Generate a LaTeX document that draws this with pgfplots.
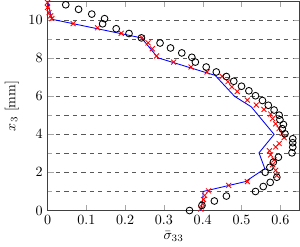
\documentclass[border=0pt]{standalone}
\usepackage{pgfplots}
\pgfplotsset{compat=1.18}
\begin{document}
\begin{tikzpicture}
\begin{axis}[
  scale only axis,
  width=179pt, height=148.6pt,
  xmin=0, xmax=0.65, ymin=0, ymax=11,
  xtick={0,0.1,0.2,0.3,0.4,0.5,0.6},
  ytick={0,2,4,6,8,10},
  minor ytick={1,3,5,7,9},
  ymajorgrids, yminorgrids,
  major grid style={dashed, black!65},
  minor grid style={dashed, black!65},
  tick style={black!35},
  axis line style={black!75},
  xlabel={$\bar{\sigma}_{33}$},
  ylabel={$x_3$ [mm]},
  xlabel style={yshift=2pt},
  clip=true,
]
\addplot[blue, semithick] coordinates {
(0.000,11.0) (0.011,10.05) (0.242,9.07) (0.285,8.02) (0.432,7.10) (0.482,6.0)
(0.525,5.45) (0.584,4.0) (0.545,3.03) (0.560,2.2) (0.510,1.52) (0.401,1.0)
(0.400,0.5) (0.394,0.0)
};
\addplot[red, only marks, mark=x, mark size=2.5pt, mark options={semithick}] coordinates {
(0.000,10.93) (0.000,10.67) (0.004,10.40) (0.008,10.23) (0.011,10.08) (0.066,9.82)
(0.129,9.60) (0.190,9.31) (0.244,9.08) (0.259,8.81) (0.270,8.50) (0.281,8.12)
(0.325,7.80) (0.370,7.54) (0.411,7.28) (0.450,7.05) (0.465,6.77) (0.475,6.50)
(0.489,6.25) (0.515,5.80) (0.538,5.54) (0.558,5.31) (0.575,5.07) (0.580,4.83)
(0.588,4.55) (0.597,4.31) (0.605,4.05) (0.610,3.83) (0.597,3.52) (0.588,3.34)
(0.572,3.14) (0.575,2.92) (0.584,2.66) (0.580,2.41) (0.588,2.11) (0.591,1.84)
(0.515,1.52) (0.467,1.32) (0.415,1.03) (0.405,0.79) (0.402,0.58) (0.400,0.35)
(0.395,0.08)
};
\addplot[black, only marks, mark=o, mark size=2.4pt, mark options={semithick}] coordinates {
(0.366,0.00) (0.398,0.27) (0.430,0.50) (0.461,0.76) (0.536,1.00) (0.556,1.26)
(0.574,1.48) (0.591,1.75) (0.561,2.01) (0.573,2.27) (0.582,2.54) (0.595,2.80)
(0.630,3.03) (0.632,3.33) (0.632,3.56) (0.632,3.77) (0.612,4.03) (0.605,4.30)
(0.608,4.52) (0.599,4.77) (0.597,5.01) (0.584,5.28) (0.569,5.53) (0.554,5.78)
(0.536,6.03) (0.519,6.29) (0.500,6.53) (0.480,6.79) (0.461,7.04) (0.435,7.28)
(0.409,7.54) (0.381,7.80) (0.372,8.05) (0.346,8.28) (0.317,8.54) (0.290,8.80)
(0.242,9.07) (0.210,9.30) (0.177,9.55) (0.142,9.81) (0.147,10.08) (0.114,10.32)
(0.080,10.57) (0.047,10.81)
};
\end{axis}
\end{tikzpicture}
\end{document}
